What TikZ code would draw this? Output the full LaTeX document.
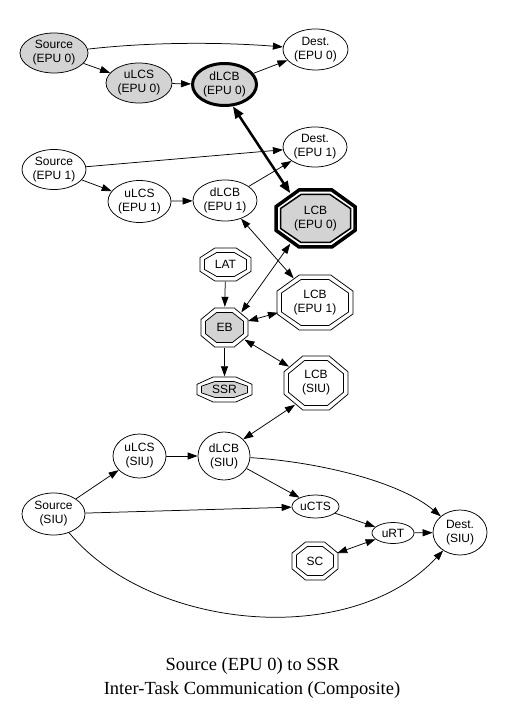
\documentclass[tikz,border=0pt]{standalone}
\usepackage{fontspec}
\setmainfont{Liberation Serif}
\newfontfamily\arialfont{Liberation Sans}
\usetikzlibrary{arrows.meta,shapes.geometric,calc}
\definecolor{nodegray}{RGB}{211,211,211}
% stretched octagon: [options]{cx}{cy}{half width}{half height}
\newcommand\octo[5][]{%
  \path[#1] ({#2+#4},{#3+0.4142*#5}) -- ({#2+0.4142*#4},{#3+#5}) -- ({#2-0.4142*#4},{#3+#5})
   -- ({#2-#4},{#3+0.4142*#5}) -- ({#2-#4},{#3-0.4142*#5}) -- ({#2-0.4142*#4},{#3-#5})
   -- ({#2+0.4142*#4},{#3-#5}) -- ({#2+#4},{#3-0.4142*#5}) -- cycle;}
\begin{document}
\begin{tikzpicture}[x=1pt,y=-1pt,
  lbl/.style={font=\arialfont\fontsize{12}{14}\selectfont, align=center},
  ell/.style={lbl, ellipse, draw, line width=0.75pt, inner sep=0pt},
  grayfill/.style={fill=nodegray},
  octn/.style={lbl, ellipse, inner sep=0pt},
  octline/.style={draw, line width=0.75pt},
  gvtip/.tip={Triangle[length=10pt,width=7pt]},
  gvbigtip/.tip={Triangle[length=12pt,width=9pt]},
  conn/.style={line width=0.75pt, -gvtip},
  biconn/.style={line width=0.75pt, gvtip-gvtip},
  thickconn/.style={line width=2.5pt, gvbigtip-gvbigtip},
  captext/.style={font=\fontsize{18.5}{24}\selectfont, anchor=base, inner sep=0pt}
]
\useasboundingbox (0,0) rectangle (505,708);

% ---------- octagon outlines ----------
% LCB (EPU 0)
\octo[draw, line width=3.5pt, line join=miter]{315.5}{218.5}{39.5}{28.5}
\octo[draw, line width=1.5pt, fill=nodegray]{315.5}{218.5}{35}{24}
% LAT
\octo[octline]{225.5}{264.5}{25.5}{16.5}
\octo[octline]{225.5}{264.5}{21}{12}
% EB
\octo[octline]{224.5}{327.5}{23.5}{19.5}
\octo[octline, fill=nodegray]{224.5}{327.5}{19}{15}
% SSR
\octo[octline]{224.5}{389.5}{27.5}{12.5}
\octo[octline, fill=nodegray]{224.5}{389.5}{23}{8}
% LCB (EPU 1)
\octo[octline]{315}{302.5}{38}{27.5}
\octo[octline]{315}{302.5}{33.5}{23}
% LCB (SIU)
\octo[octline]{316}{383}{32}{27}
\octo[octline]{316}{383}{27.5}{22.5}
% SC
\octo[octline]{315}{561}{23}{19}
\octo[octline]{315}{561}{18.5}{14.5}

% ---------- nodes ----------
\node[ell, grayfill, minimum width=68pt, minimum height=40pt] (S0) at (54,53) {Source\\(EPU 0)};
\node[ell, minimum width=65pt, minimum height=41pt] (D0) at (315.5,49.5) {Dest.\\(EPU 0)};
\node[ell, grayfill, minimum width=66pt, minimum height=40pt] (U0) at (139,83) {uLCS\\(EPU 0)};
\node[ell, grayfill, line width=3pt, minimum width=64pt, minimum height=42pt] (L0) at (224.5,84.5) {dLCB\\(EPU 0)};

\node[ell, minimum width=64pt, minimum height=40pt] (S1) at (54,169.5) {Source\\(EPU 1)};
\node[ell, minimum width=64pt, minimum height=40pt] (D1) at (315,147) {Dest.\\(EPU 1)};
\node[ell, minimum width=63pt, minimum height=42pt] (U1) at (139.5,201.5) {uLCS\\(EPU 1)};
\node[ell, minimum width=64pt, minimum height=41pt] (L1) at (225,200.5) {dLCB\\(EPU 1)};

\node[octn, minimum width=86pt, minimum height=62pt] (LCB0) at (315.5,218.5) {LCB\\(EPU 0)};
\node[octn, minimum width=53pt, minimum height=34pt] (LAT) at (225.5,264.5) {LAT};
\node[octn, minimum width=49pt, minimum height=41pt] (EB) at (224.5,327.5) {EB};
\node[octn, minimum width=57pt, minimum height=26pt] (SSR) at (224.5,389.5) {SSR};
\node[octn, minimum width=79pt, minimum height=57pt] (LCB1) at (315,302.5) {LCB\\(EPU 1)};
\node[octn, minimum width=66pt, minimum height=56pt] (LCBS) at (316,383) {LCB\\(SIU)};
\node[octn, minimum width=48pt, minimum height=40pt] (SC) at (315,561) {SC};

\node[ell, minimum width=53pt, minimum height=44pt] (US) at (139.5,456) {uLCS\\(SIU)};
\node[ell, minimum width=52pt, minimum height=48pt] (LS) at (224,456) {dLCB\\(SIU)};
\node[ell, minimum width=63pt, minimum height=42pt] (SS) at (53.5,514) {Source\\(SIU)};
\node[ell, minimum width=47pt, minimum height=23pt] (CTS) at (315.5,506.5) {uCTS};
\node[ell, minimum width=42pt, minimum height=21pt] (RT) at (393,533) {uRT};
\node[ell, minimum width=54pt, minimum height=45pt] (DS) at (460,532.5) {Dest.\\(SIU)};

% ---------- connectors ----------
\draw[conn] (S0) .. controls (150,42) and (220,42) .. (D0);
\draw[conn] (S0) -- (U0);
\draw[conn] (U0) -- (L0);
\draw[conn] (L0) -- (D0);
\draw[thickconn] (L0.-69) -- (LCB0.135);

\draw[conn] (S1) -- (D1);
\draw[conn] (S1) -- (U1);
\draw[conn] (U1) -- (L1);
\draw[conn] (L1) -- (D1);
\draw[biconn] (L1) -- (LCB1);

\draw[biconn] (EB.42) -- (LCB0.225);
\draw[conn] (LAT) -- (EB);
\draw[conn] (EB) -- (SSR);
\draw[biconn] (EB) -- (LCB1);
\draw[biconn] (EB) -- (LCBS);
\draw[biconn] (LCBS.226) -- (LS.41);

\draw[conn] (SS) -- (US);
\draw[conn] (US) -- (LS);
\draw[conn] (LS) -- (CTS);
\draw[conn] (LS) .. controls (320,462) and (400,482) .. (DS);
\draw[conn] (SS) -- (CTS);
\draw[conn] (CTS) -- (RT);
\draw[conn] (RT) -- (DS);
\draw[biconn] (SC) -- (RT);
\draw[conn] (SS) .. controls (150,630) and (350,650) .. (DS);

% ---------- caption ----------
\node[captext] (cap1) at (252.5,670) {Source (EPU 0) to SSR};
\node[captext] (cap2) at (252,694) {Inter-Task Communication (Composite)};
\end{tikzpicture}
\end{document}
